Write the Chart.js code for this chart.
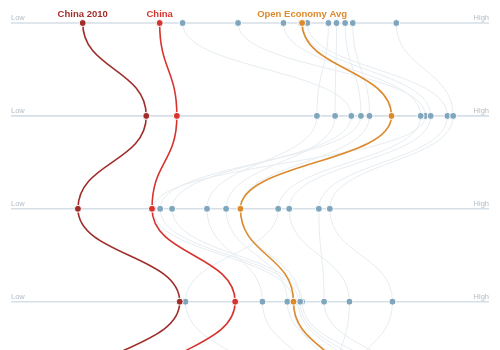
<!DOCTYPE html>
<html>
<head>
<meta charset="utf-8">
<style>
  html, body { margin: 0; padding: 0; background: #ffffff; }
  #wrap { width: 500px; height: 350px; }
</style>
<script src="https://cdn.jsdelivr.net/npm/chart.js@4/dist/chart.umd.min.js"></script>
</head>
<body>
<div id="wrap"><canvas id="chart" width="500" height="350"></canvas></div>
<script>
// One horizontal Low→High axis per indicator, top to bottom (the fifth sits just below the frame).
const rows = [0, 1, 2, 3, 4];
const scaleLabels = ['Low', 'High'];

// Scores on a 0–100 scale, one per indicator row.
const china2010 = [15.0, 28.3, 14.0, 35.3, 13.9];
const china = [31.1, 34.7, 29.5, 46.9, 28.2];
const openEconomyAvg = [60.9, 79.6, 48.0, 59.1, 70.9];

// Individual open economies (background lines).
const peerEconomies = [
  [35.9, 71.2, 33.7, 60.9, 80.3],
  [47.5, 86.7, 29.7, 59.0, 68.8],
  [57.0, 85.7, 55.9, 36.5, 52.9],
  [60.7, 87.8, 58.2, 70.8, 67.2],
  [62.0, 91.3, 64.4, 65.5, 83.5],
  [66.4, 64.0, 41.0, 52.6, 64.6],
  [68.1, 67.8, 45.0, 57.8, 73.0],
  [69.9, 73.2, 31.2, 60.1, 75.1],
  [71.5, 75.0, 47.9, 60.5, 77.2],
  [80.6, 92.5, 66.7, 79.8, 69.7]
];

const toPoints = vals => vals.map((v, i) => ({ x: v, y: rows[i] }));

const COLORS = {
  china2010: '#9f2e2a',
  china: '#d6342f',
  avg: '#dc8a2c',
  peerDot: '#7fa6bd',
  peerLine: '#e6ecf0',
  axis: '#d4dfe7',
  axisText: '#b3bcc4'
};

function highlight(label, vals, color) {
  return {
    label,
    data: toPoints(vals),
    borderColor: color,
    borderWidth: 1.6,
    tension: 0.4,
    pointRadius: 3.5,
    pointBackgroundColor: color,
    pointBorderColor: '#ffffff',
    pointBorderWidth: 1,
    highlighted: true,
    labelColor: color
  };
}

const datasets = [
  highlight('Open Economy Avg', openEconomyAvg, COLORS.avg),
  highlight('China', china, COLORS.china),
  highlight('China 2010', china2010, COLORS.china2010),
  {
    label: 'peer points',
    data: peerEconomies.flatMap(toPoints),
    showLine: false,
    tension: 0,
    pointRadius: 3.5,
    pointBackgroundColor: COLORS.peerDot,
    pointBorderColor: '#ffffff',
    pointBorderWidth: 1
  },
  ...peerEconomies.map((vals, k) => ({
    label: 'peer ' + (k + 1),
    data: toPoints(vals),
    borderColor: COLORS.peerLine,
    borderWidth: 1,
    tension: 0.4,
    pointRadius: 0
  }))
];

// Curves leave and enter every axis vertically: each link is a cubic
// whose control points sit halfway between two consecutive rows.
const verticalLinks = {
  id: 'verticalLinks',
  beforeDatasetDraw(chart, args) {
    const meta = args.meta;
    const line = meta.dataset;
    if (!line || !line.options || !line.options.tension) return;
    line.updateControlPoints(chart.chartArea, meta.iScale.axis);
    const pts = meta.data;
    for (let i = 0; i < pts.length; i++) {
      const p = pts[i];
      const prev = pts[i - 1];
      const next = pts[i + 1];
      const up = prev ? (p.y - prev.y) / 2 : 0;
      const down = next ? (next.y - p.y) / 2 : 0;
      p.cp1x = p.x; p.cp1y = p.y - up;
      p.cp2x = p.x; p.cp2y = p.y + down;
    }
  }
};

// Axis rails with their Low / High end labels.
const axisRails = {
  id: 'axisRails',
  beforeDatasetsDraw(chart) {
    const { ctx, scales: { x, y } } = chart;
    const x0 = x.getPixelForValue(0);
    const x1 = x.getPixelForValue(100);
    ctx.save();
    rows.forEach(r => {
      const py = y.getPixelForValue(r);
      ctx.strokeStyle = COLORS.axis;
      ctx.lineWidth = 1.6;
      ctx.beginPath();
      ctx.moveTo(x0, py);
      ctx.lineTo(x1, py);
      ctx.stroke();
      ctx.fillStyle = COLORS.axisText;
      ctx.font = '7.5px "Liberation Sans", Arial, sans-serif';
      ctx.textBaseline = 'alphabetic';
      ctx.textAlign = 'left';
      ctx.fillText(scaleLabels[0], x0, py - 3);
      ctx.textAlign = 'right';
      ctx.fillText(scaleLabels[1], x1, py - 3);
    });
    ctx.restore();
  },
  afterDatasetsDraw(chart) {
    const { ctx } = chart;
    ctx.save();
    ctx.font = 'bold 9.5px "Liberation Sans", Arial, sans-serif';
    ctx.textAlign = 'center';
    ctx.textBaseline = 'alphabetic';
    chart.data.datasets.forEach((ds, i) => {
      if (!ds.highlighted) return;
      const first = chart.getDatasetMeta(i).data[0];
      ctx.fillStyle = ds.labelColor;
      ctx.fillText(ds.label, first.x, first.y - 5.6);
    });
    ctx.restore();
  }
};

new Chart(document.getElementById('chart'), {
  type: 'line',
  data: { datasets },
  options: {
    responsive: false,
    animation: false,
    events: [],
    layout: { padding: 0, autoPadding: false },
    plugins: { legend: { display: false }, tooltip: { enabled: false } },
    scales: {
      x: { type: 'linear', display: false, min: -2.301, max: 102.301 },
      y: { type: 'linear', display: false, reverse: true, min: -0.2476, max: 3.5199 }
    }
  },
  plugins: [verticalLinks, axisRails]
});
</script>
</body>
</html>
